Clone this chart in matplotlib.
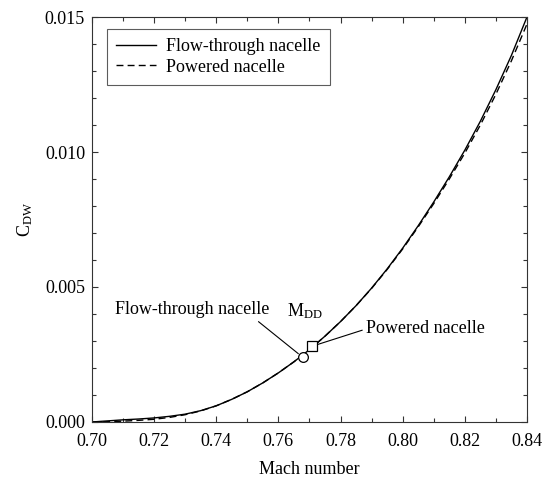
import matplotlib
matplotlib.use("Agg")
import matplotlib.pyplot as plt
from matplotlib.ticker import MultipleLocator, FormatStrFormatter

plt.rcParams['font.family'] = ['Liberation Serif', 'DejaVu Serif']
plt.rcParams['mathtext.fontset'] = 'custom'
plt.rcParams['mathtext.rm'] = 'Liberation Serif'
plt.rcParams['mathtext.it'] = 'Liberation Serif:italic'

mach = [0.700, 0.705, 0.710, 0.715, 0.720, 0.725, 0.730, 0.735, 0.740, 0.745,
        0.750, 0.755, 0.760, 0.765, 0.770, 0.775, 0.780, 0.785, 0.790, 0.795,
        0.800, 0.805, 0.810, 0.815, 0.820, 0.825, 0.830, 0.835, 0.840]
cdw_flow = [0.00000, 0.00004, 0.00008, 0.00011, 0.00015, 0.00021, 0.00029, 0.00042, 0.00060, 0.00084,
            0.00112, 0.00145, 0.00182, 0.00223, 0.00268, 0.00318, 0.00372, 0.00431, 0.00496, 0.00567,
            0.00644, 0.00727, 0.00815, 0.00908, 0.01007, 0.01114, 0.01231, 0.01358, 0.01500]
cdw_pow = [0.00000, 0.00001, 0.00003, 0.00006, 0.00010, 0.00017, 0.00027, 0.00041, 0.00060, 0.00084,
           0.00112, 0.00145, 0.00182, 0.00223, 0.00268, 0.00318, 0.00372, 0.00431, 0.00495, 0.00565,
           0.00641, 0.00723, 0.00809, 0.00900, 0.00996, 0.01100, 0.01214, 0.01338, 0.01474]

mdd_flow = (0.7678, 0.00240)
mdd_pow = (0.7707, 0.00280)

fig = plt.figure(figsize=(5.55, 4.78), dpi=100)
ax = fig.add_axes([0.1658, 0.1172, 0.7837, 0.8472])

ax.plot(mach, cdw_flow, color='black', lw=1.0, label='Flow-through nacelle')
ax.plot(mach, cdw_pow, color='black', lw=1.0, ls=(0, (5, 3)), label='Powered nacelle')

ax.plot(*mdd_flow, marker='o', ms=7, mfc='white', mec='black', mew=0.9, zorder=5)
ax.plot(*mdd_pow, marker='s', ms=6.5, mfc='white', mec='black', mew=0.9, zorder=5)

ax.annotate('Flow-through nacelle', xy=mdd_flow, xytext=(0.7074, 0.0040),
            fontsize=13, ha='left', va='baseline',
            arrowprops=dict(arrowstyle='-', color='black', lw=0.8,
                            shrinkA=1, shrinkB=4, relpos=(0.9, 0.0)))
ax.annotate('Powered nacelle', xy=mdd_pow, xytext=(0.7883, 0.00348),
            fontsize=13, ha='left', va='center',
            arrowprops=dict(arrowstyle='-', color='black', lw=0.8,
                            shrinkA=1, shrinkB=3, relpos=(0.0, 0.45)))
ax.text(0.7626, 0.0039, r'M$_{\mathrm{DD}}$', fontsize=13, ha='left', va='baseline')

ax.set_xlim(0.70, 0.84)
ax.set_ylim(0.0, 0.015)
ax.xaxis.set_major_locator(MultipleLocator(0.02))
ax.xaxis.set_minor_locator(MultipleLocator(0.01))
ax.yaxis.set_major_locator(MultipleLocator(0.005))
ax.yaxis.set_minor_locator(MultipleLocator(0.001))
ax.xaxis.set_major_formatter(FormatStrFormatter('%.2f'))
ax.yaxis.set_major_formatter(FormatStrFormatter('%.3f'))
ax.tick_params(which='both', direction='in', top=True, right=True, labelsize=13,
               color='#333333', width=0.8)
ax.tick_params(which='major', length=4)
ax.tick_params(which='minor', length=3)
ax.tick_params(axis='x', which='major', pad=8)
ax.tick_params(axis='y', which='major', pad=5)
for s in ax.spines.values():
    s.set_linewidth(0.8)
    s.set_color('#333333')

ax.set_xlabel('Mach number', fontsize=13, labelpad=8)
ax.set_ylabel(r'C$_{\mathrm{DW}}$', fontsize=13, labelpad=7)

leg = ax.legend(loc='upper left', bbox_to_anchor=(0.034, 0.970), fontsize=13,
                frameon=True, fancybox=False, edgecolor='#333333',
                handlelength=2.2, handletextpad=0.6, borderpad=0.5,
                labelspacing=0.2, borderaxespad=0)
leg.get_frame().set_linewidth(0.8)

fig.savefig('out.png', dpi=100)
